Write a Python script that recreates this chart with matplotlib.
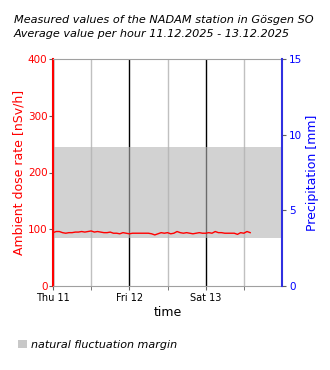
import numpy as np
import matplotlib
matplotlib.use("Agg")
import matplotlib.pyplot as plt
from matplotlib.patches import Patch

# Hourly mean dose rate [nSv/h], starting Thu 11.12.2025 00:00
dose_rate = [
    94, 96, 96, 94, 93, 94, 94, 95, 95, 96, 95, 96, 97, 95, 96, 95,
    94, 94, 95, 93, 93, 92, 94, 93, 92, 93, 93, 93, 93, 93, 93, 92,
    90, 92, 94, 93, 94, 92, 93, 96, 94, 93, 94, 93, 92, 93, 94, 93,
    93, 94, 93, 96, 94, 94, 93, 93, 93, 93, 91, 94, 93, 96, 94,
]
# Natural fluctuation margin [nSv/h]
margin_low = 85
margin_high = 245

day_labels = ["Thu 11", "Fri 12", "Sat 13"]
day_hours = [0, 24, 48]
noon_hours = [12, 36, 60]

fig = plt.figure(figsize=(3.3, 3.7), dpi=100)
ax = fig.add_axes([53 / 330, 1 - 286 / 370, 229 / 330, 227 / 370])

hours = np.arange(len(dose_rate))

ax.set_xlim(0, 72)
ax.set_ylim(0, 400)

# grid: black day lines, light grey noon lines
for h in day_hours:
    ax.axvline(h, color="black", lw=1.0, zorder=0)
for h in noon_hours:
    ax.axvline(h, color="#c0c0c0", lw=1.0, zorder=0)

ax.axhspan(margin_low, margin_high, color="#b4b4b4", alpha=0.6, lw=0, zorder=1)
ax.plot(hours, dose_rate, color="red", lw=1.0, zorder=3)

ax.set_xticks(day_hours)
ax.set_xticklabels(day_labels)
ax.set_xticks(noon_hours, minor=True)
ax.tick_params(axis="x", which="both", length=3, color="#606060",
               labelsize=7, pad=2)
ax.set_yticks([0, 100, 200, 300, 400])
ax.tick_params(axis="y", length=3, color="#606060", labelcolor="red",
               labelsize=7.5, pad=1)

ax.set_xlabel("time", fontsize=9, labelpad=2)
ax.set_ylabel("Ambient dose rate [nSv/h]", color="red", fontsize=9, labelpad=2)

for side in ["top", "bottom"]:
    ax.spines[side].set_color("#a0a0a0")
ax.spines["right"].set_visible(False)
ax.spines["left"].set_color("red")
ax.spines["left"].set_linewidth(1.5)

ax2 = ax.twinx()
ax2.set_ylim(0, 15)
ax2.set_yticks([0, 5, 10, 15])
ax2.tick_params(axis="y", length=3, color="#606060", labelcolor="blue",
                labelsize=7.5, pad=2)
ax2.set_ylabel("Precipitation [mm]", color="blue", fontsize=9, labelpad=3)
ax2.spines["right"].set_color("#3030e0")
ax2.spines["right"].set_linewidth(1.5)
for side in ["top", "bottom", "left"]:
    ax2.spines[side].set_visible(False)

fig.text(14 / 330, 1 - 20 / 370,
         "Measured values of the NADAM station in Gösgen SO",
         fontsize=8.1, style="italic", va="center", ha="left")
fig.text(14 / 330, 1 - 34 / 370,
         "Average value per hour 11.12.2025 - 13.12.2025",
         fontsize=8.1, style="italic", va="center", ha="left")

fig.legend(handles=[Patch(facecolor="#c8c8c8", edgecolor="none",
                          label="natural fluctuation margin")],
           loc="center left", bbox_to_anchor=(8 / 330, 1 - 345 / 370),
           frameon=False, handlelength=0.8, handleheight=0.8,
           handletextpad=0.4, prop={"size": 8, "style": "italic"})

fig.savefig("out.png", dpi=100)
